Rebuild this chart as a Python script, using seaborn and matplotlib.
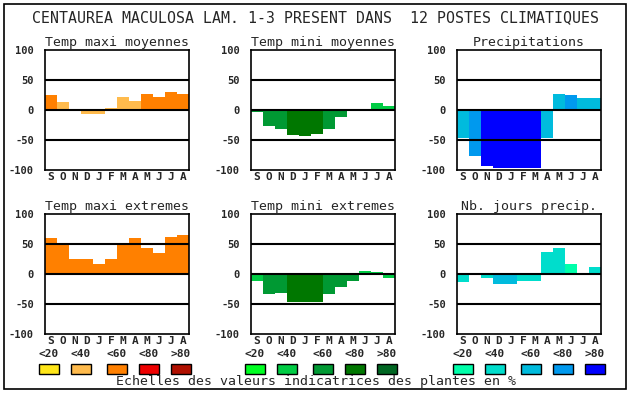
import matplotlib
matplotlib.use("Agg")
import matplotlib.pyplot as plt
from matplotlib.patches import Rectangle
import seaborn as sns
import pandas as pd

# ---------------- data ----------------
months = ["S", "O", "N", "D", "J", "F", "M", "A", "M", "J", "J", "A"]
yticks = [100, 50, 0, -50, -100]

title_main = "CENTAUREA MACULOSA LAM. 1-3 PRESENT DANS  12 POSTES CLIMATIQUES"
caption = "Echelles des valeurs indicatrices des plantes en %"
scale_labels = ["<20", "<40", "<60", "<80", ">80"]

panel_titles = ["Temp maxi moyennes", "Temp mini moyennes", "Precipitations",
                "Temp maxi extremes", "Temp mini extremes", "Nb. jours precip."]

tmax_moy = [25, 14, 2, -6, -7, 4, 22, 15, 27, 22, 30, 27]
tmin_moy = [-4, -26, -32, -42, -44, -40, -31, -12, -2, 2, 12, 7]
precip = [-46, -77, -94, -96, -97, -96, -96, -46, 27, 25, 20, 20]
tmax_ext = [60, 52, 25, 25, 17, 25, 52, 60, 44, 35, 62, 65]
tmin_ext = [-12, -34, -32, -46, -47, -46, -34, -21, -11, 5, 4, -7]
nb_jours = [-14, -2, -6, -17, -16, -12, -12, 37, 43, 17, -2, 12]

# colour class (0..4 = <20 .. >80) for each bar
tmax_moy_cls = [2, 1, 1, 1, 1, 1, 1, 1, 2, 2, 2, 2]
tmin_moy_cls = [2, 2, 2, 3, 3, 3, 2, 2, 2, 1, 1, 1]
precip_cls = [2, 3, 4, 4, 4, 4, 4, 2, 2, 3, 2, 2]
tmax_ext_cls = [2, 2, 2, 2, 2, 2, 2, 2, 2, 2, 2, 2]
tmin_ext_cls = [1, 2, 2, 3, 3, 3, 2, 2, 2, 1, 1, 1]
nb_jours_cls = [1, 1, 1, 2, 2, 1, 1, 1, 1, 0, 1, 1]

orange_scale = ["#FFE619", "#FFBB4D", "#FF8000", "#EE0000", "#B01000"]
green_scale = ["#00FF22", "#00CC44", "#009933", "#007700", "#006622"]
blue_scale = ["#00FFAA", "#00DDCC", "#00BBDD", "#0099EE", "#0000FF"]

panels = [
    (tmax_moy, tmax_moy_cls, orange_scale),
    (tmin_moy, tmin_moy_cls, green_scale),
    (precip, precip_cls, blue_scale),
    (tmax_ext, tmax_ext_cls, orange_scale),
    (tmin_ext, tmin_ext_cls, green_scale),
    (nb_jours, nb_jours_cls, blue_scale),
]

# ---------------- style ----------------
sns.set_style("white")
plt.rcParams["font.family"] = ["DejaVu Sans Mono", "DejaVu Sans"]

W, H = 630, 394
fig = plt.figure(figsize=(W / 100, H / 100), dpi=100)


def box(x0, y0, x1, y1):
    """pixel box (top-left origin) -> figure fraction rect"""
    return [x0 / W, 1 - y1 / H, (x1 - x0) / W, (y1 - y0) / H]


# outer frame
fig.patches.append(Rectangle((4 / W, 1 - 389 / H), 622 / W, 385 / H,
                             transform=fig.transFigure, fill=False,
                             edgecolor="black", linewidth=1.2))

fig.text(315 / W, 1 - 18 / H, title_main, ha="center", va="center",
         fontsize=10.7)

xs = [45, 251, 457]
ys = [50, 214]

for i, (vals, cls, scale) in enumerate(panels):
    r, c = divmod(i, 3)
    ax = fig.add_axes(box(xs[c], ys[r], xs[c] + 144, ys[r] + 120))
    keys = [f"b{k}" for k in range(12)]
    df = pd.DataFrame({"x": list(range(12)), "y": vals, "k": keys})
    pal = {k: scale[cl] for k, cl in zip(keys, cls)}
    sns.barplot(data=df, x="x", y="y", hue="k", palette=pal, legend=False,
                width=1.0, saturation=1, linewidth=0, ax=ax, zorder=1)
    ax.set_xlim(-0.5, 11.5)
    ax.set_ylim(-100, 100)
    for yv in (50, 0, -50):
        ax.axhline(yv, color="black", linewidth=1.5, zorder=3)
    ax.set_yticks(yticks)
    ax.set_yticklabels([str(v) for v in yticks], fontsize=7.5, fontweight="bold")
    ax.set_xticks(range(12))
    ax.set_xticklabels(months, fontsize=8, fontweight="bold")
    ax.tick_params(axis="y", length=0, pad=8)
    ax.tick_params(axis="x", length=0, pad=1.5)
    ax.set_xlabel("")
    ax.set_ylabel("")
    for sp in ax.spines.values():
        sp.set_visible(True)
        sp.set_color("black")
        sp.set_linewidth(1.2)
        sp.set_zorder(4)
    ax.set_title(panel_titles[i], fontsize=9.5, pad=3)

# colour scales legend
legend_x = [
    [39, 71, 107, 139, 171],
    [245, 277, 313, 345, 377],
    [453, 485, 521, 553, 585],
]
for scale, xrow in zip([orange_scale, green_scale, blue_scale], legend_x):
    for col, lab, x0 in zip(scale, scale_labels, xrow):
        fig.patches.append(Rectangle((x0 / W, 1 - 374 / H), 20 / W, 10 / H,
                                     transform=fig.transFigure,
                                     facecolor=col, edgecolor="black",
                                     linewidth=1.0))
        fig.text((x0 + 10) / W, 1 - 354 / H, lab, ha="center", va="center",
                 fontsize=8, fontweight="bold")

fig.text(316 / W, 1 - 382 / H, caption, ha="center", va="center",
         fontsize=9.5)

fig.savefig("out.png", dpi=100)
